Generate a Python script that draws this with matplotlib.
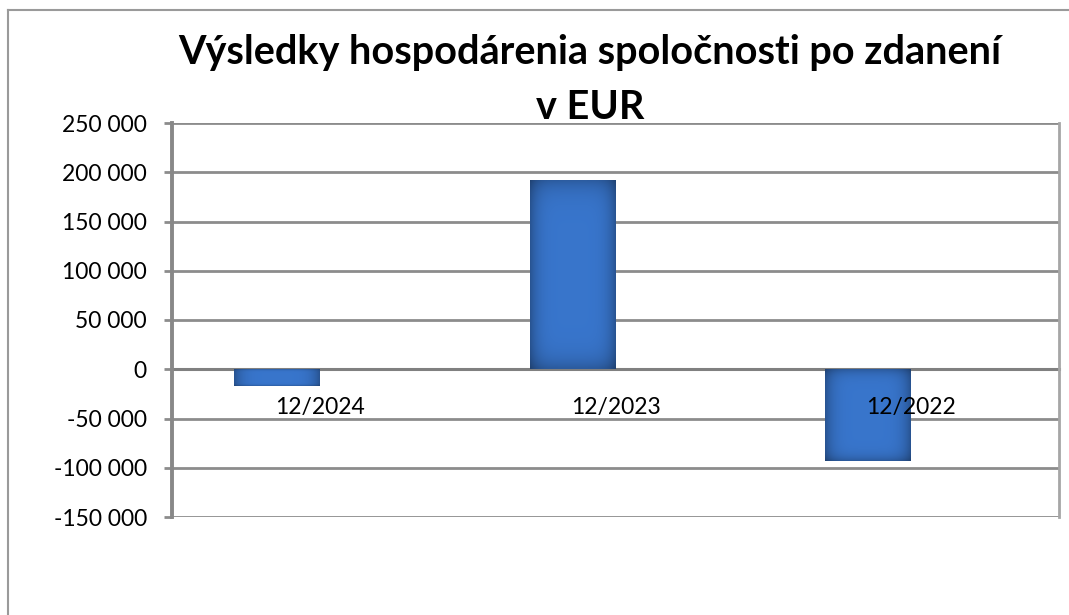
import numpy as np
import matplotlib
matplotlib.use("Agg")
import matplotlib.pyplot as plt
from matplotlib.lines import Line2D
from matplotlib.ticker import FuncFormatter

# data
periods = ["12/2024", "12/2023", "12/2022"]
profit_eur = [-17000, 192000, -93000]
y_ticks = [-150000, -100000, -50000, 0, 50000, 100000, 150000, 200000, 250000]

title = "Výsledky hospodárenia spoločnosti po zdanení\nv EUR"

plt.rcParams['font.family'] = ['Lato', 'DejaVu Sans']

W, H = 1069, 615
fig = plt.figure(figsize=(W / 100, H / 100), dpi=100)
ax = fig.add_axes([172 / W, 1 - 517 / H, (1059 - 172) / W, (517 - 123) / H])

grid_col = '#8c8c8c'
bar_w = 0.29
x = np.arange(len(periods))
bars = ax.bar(x - bar_w / 2, profit_eur, width=bar_w, color='#3572c8',
              edgecolor='none', zorder=3)

# fake the bevelled Excel look: flat middle, darker rims
g = np.abs(np.linspace(-1, 1, 80))
base = np.array([0.22, 0.46, 0.80])
shade_x = 1 - 0.28 * g ** 5
for b in bars:
    x0, y0, bw, bh = b.get_x(), b.get_y(), b.get_width(), b.get_height()
    gy = np.abs(np.linspace(-1, 1, 80))
    shade_y = 1 - 0.22 * gy ** 8
    img = base[None, None, :] * (shade_x[None, :, None] * shade_y[:, None, None])
    im = ax.imshow(np.clip(img, 0, 1), extent=[x0, x0 + bw, y0, y0 + bh],
                   aspect='auto', zorder=3.5, interpolation='bilinear', origin='lower')
    im.set_clip_path(b)

ax.set_xlim(-0.5, len(periods) - 0.5)
ax.set_ylim(y_ticks[0], y_ticks[-1])
ax.set_yticks(y_ticks)
ax.yaxis.set_major_formatter(FuncFormatter(lambda v, p: f"{int(v):,}".replace(",", " ")))
ax.yaxis.grid(True, color=grid_col, linewidth=2)
ax.set_axisbelow(True)

ax.set_xticks(x)
ax.set_xticklabels(periods)
ax.xaxis.set_zorder(5)  # category labels sit on top of the bars
ax.spines['bottom'].set_position(('data', 0))
ax.spines['bottom'].set_color('#808080')
ax.spines['bottom'].set_linewidth(2.2)
ax.spines['bottom'].set_zorder(2)
ax.spines['left'].set_color('#888888')
ax.spines['left'].set_linewidth(2.8)
ax.spines['right'].set_color('#a6a6a6')
ax.spines['right'].set_linewidth(2)
ax.spines['top'].set_visible(False)

ax.tick_params(axis='x', length=0, pad=20, labelsize=16.5, colors='black')
ax.tick_params(axis='y', direction='out', length=6, width=2, color=grid_col,
               pad=12, labelsize=16.5, labelcolor='black')

fig.text(590 / W, 1 - 34 / H, title, ha='center', va='top', fontsize=28.5,
         fontweight='bold', linespacing=1.6)

# outer chart border (left and top edges visible in the reference)
fig.add_artist(Line2D([8 / W, 8 / W], [0, 1 - 10 / H], transform=fig.transFigure,
                      color='#9a9a9a', linewidth=1.5))
fig.add_artist(Line2D([8 / W, 1], [1 - 10 / H, 1 - 10 / H], transform=fig.transFigure,
                      color='#9a9a9a', linewidth=1.5))

fig.savefig('out.png', dpi=100)
